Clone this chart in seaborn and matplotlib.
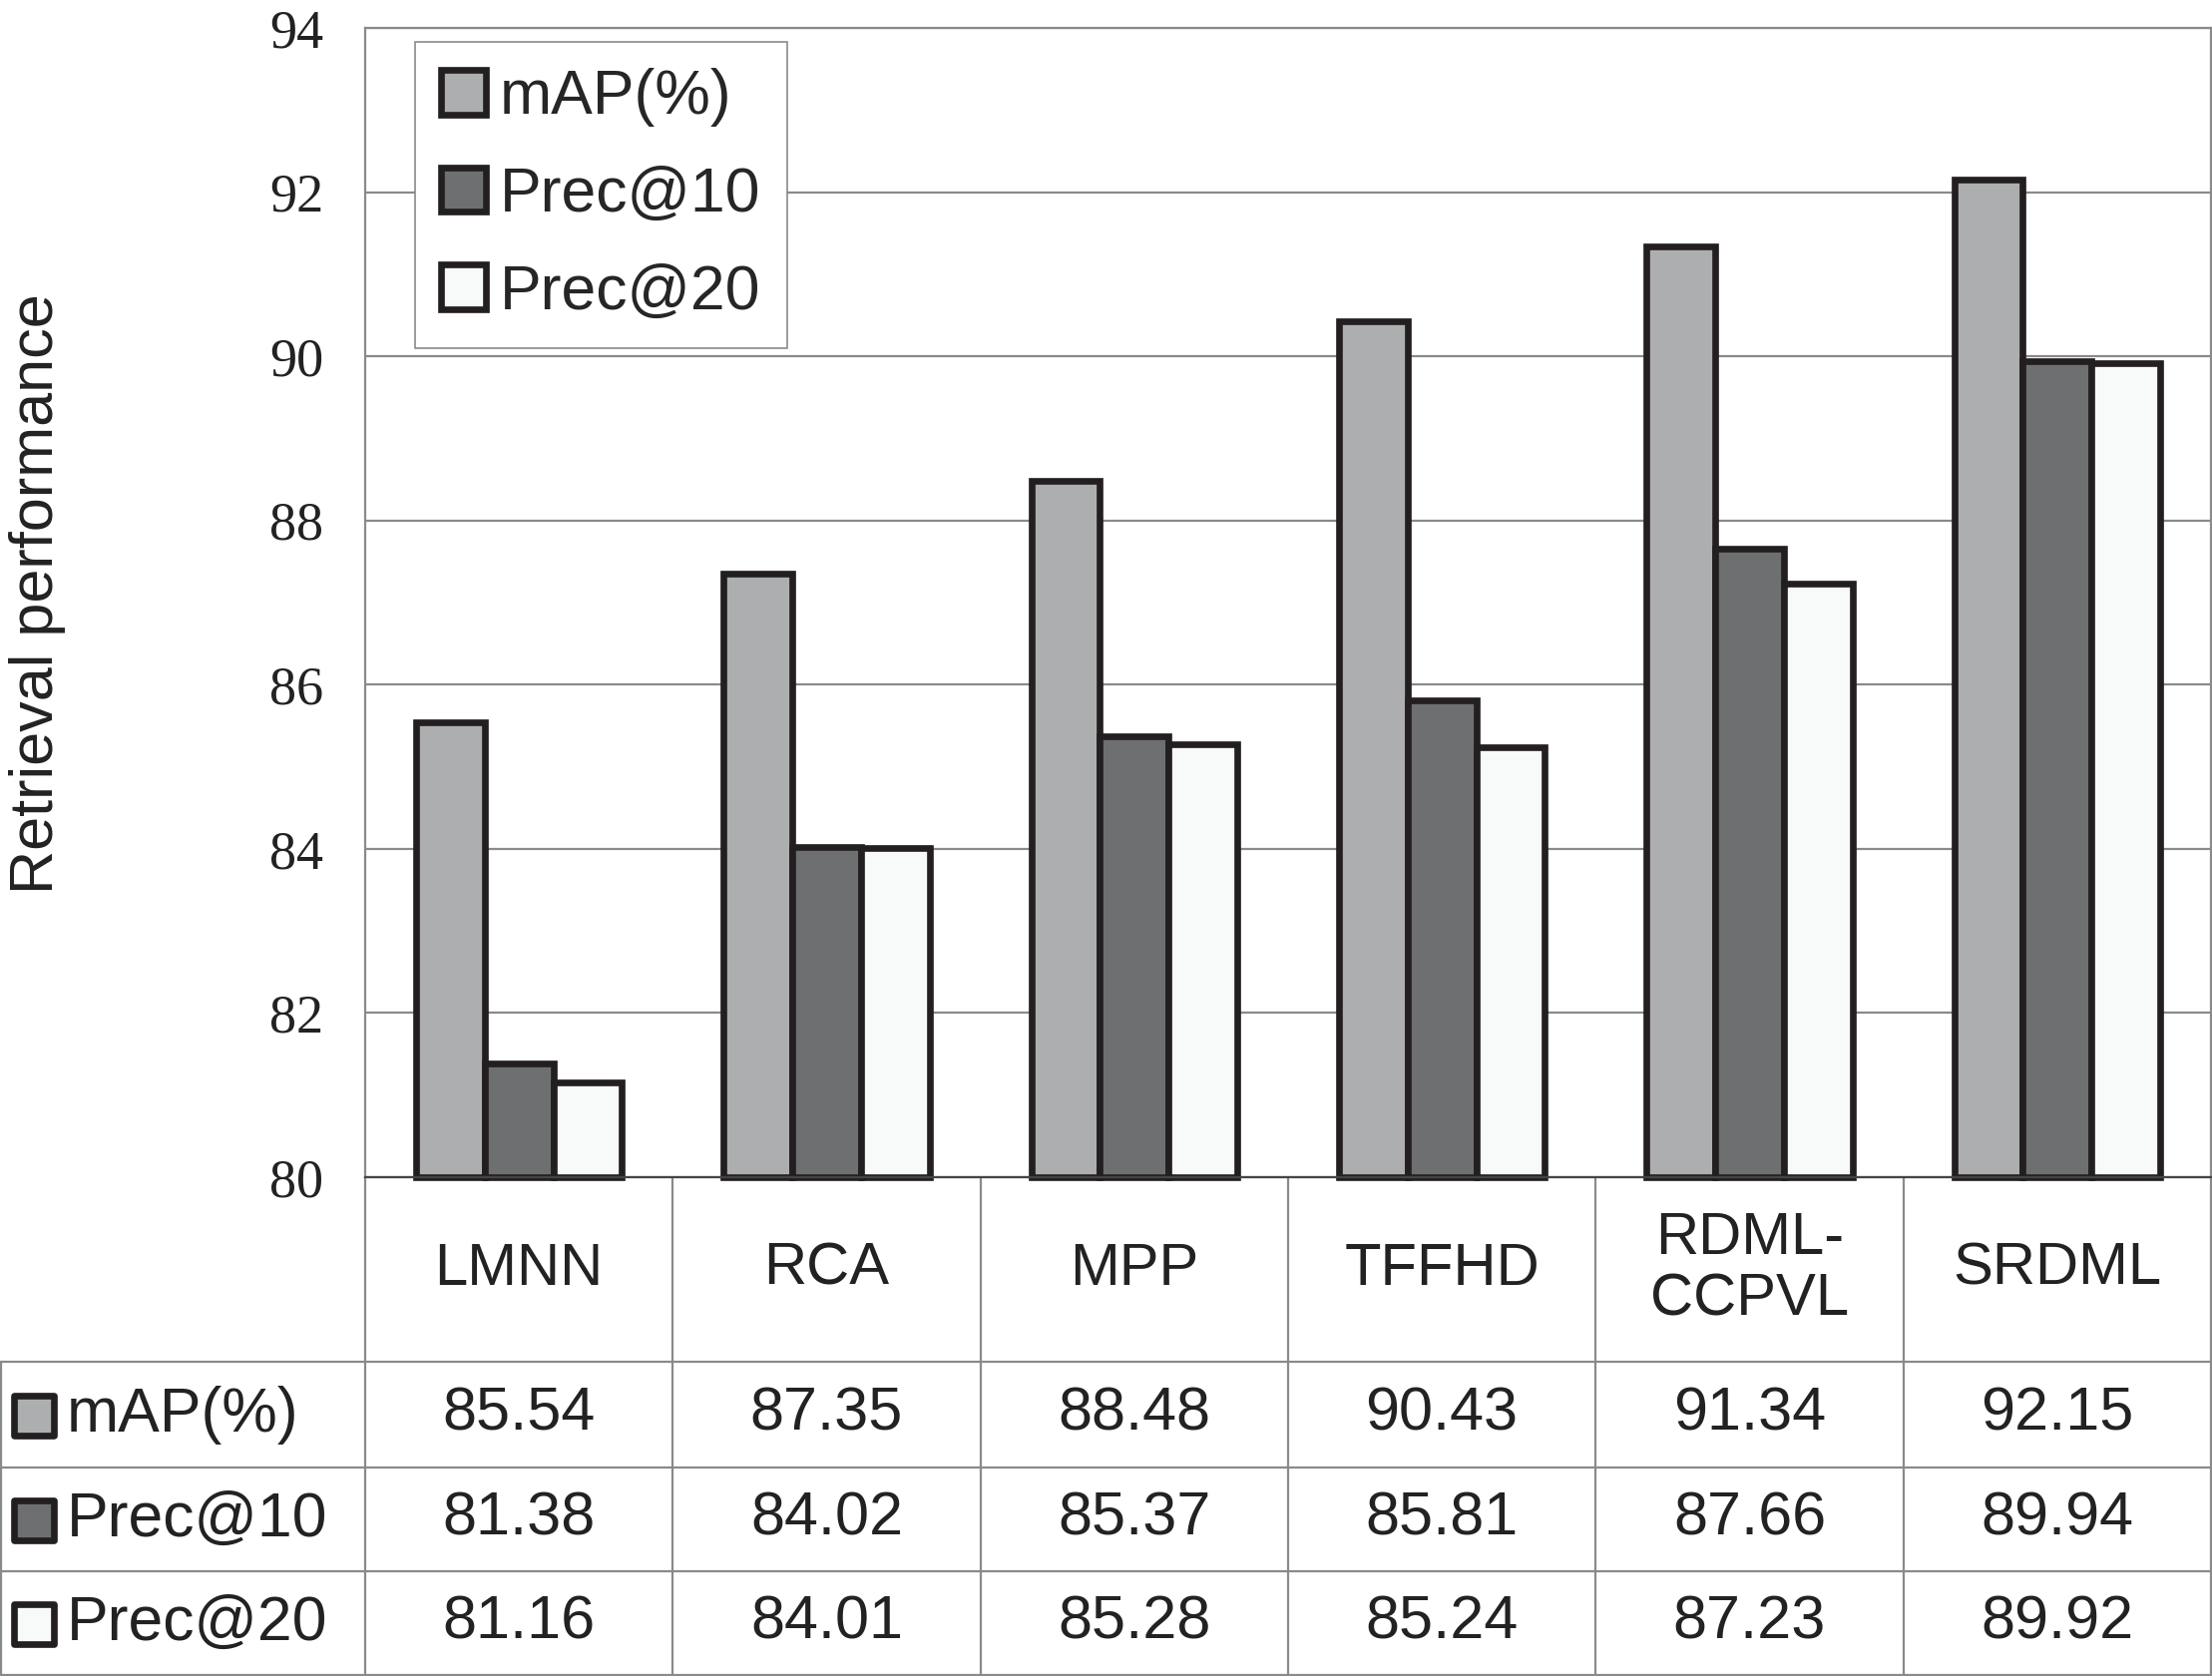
import pandas as pd
import matplotlib.pyplot as plt
import seaborn as sns
from matplotlib.patches import Rectangle
from matplotlib.transforms import blended_transform_factory

methods = ["LMNN", "RCA", "MPP", "TFFHD", "RDML-\nCCPVL", "SRDML"]
metrics = ["mAP(%)", "Prec@10", "Prec@20"]
map_vals = [85.54, 87.35, 88.48, 90.43, 91.34, 92.15]
prec10_vals = [81.38, 84.02, 85.37, 85.81, 87.66, 89.94]
prec20_vals = [81.16, 84.01, 85.28, 85.24, 87.23, 89.92]
yticks = [80, 82, 84, 86, 88, 90, 92, 94]

colors = ["#adaeb0", "#6e6f71", "#f8f9f9"]
edge = "#231f20"
line_c = "#8a8a8a"

df = pd.DataFrame({
    "method": methods * 3,
    "metric": [m for m in metrics for _ in methods],
    "value": map_vals + prec10_vals + prec20_vals,
})

sns.set_theme(style="white")
plt.rcParams["font.family"] = ["Liberation Sans", "DejaVu Sans"]

W, H = 2217, 1680
fig = plt.figure(figsize=(W / 100, H / 100), dpi=100)
ax = fig.add_axes([366 / W, 1 - 1180 / H, (W - 367) / W, (1180 - 28) / H])

sns.barplot(data=df, x="method", y="value", hue="metric", palette=colors,
            width=0.67, edgecolor=edge, linewidth=4.8, saturation=1, ax=ax)

# bars start at the axis floor so their bottom outline shows
base = yticks[0]
for cont in ax.containers:
    for p in cont:
        h = p.get_height()
        p.set_y(base)
        p.set_height(h - base)
        p.set_clip_on(False)

ax.set_ylim(yticks[0], yticks[-1])
ax.set_xlim(-0.5, len(methods) - 0.5)
ax.set_yticks(yticks)
ax.set_yticklabels([str(t) for t in yticks], fontfamily="Liberation Serif")
ax.tick_params(axis="y", length=0, pad=30, labelsize=39, labelcolor="#222222")
ax.set_xticks(range(len(methods)))
ax.set_xticklabels([])
ax.tick_params(axis="x", length=0)
ax.set_xlabel("")
ax.set_ylabel("")
ax.yaxis.grid(True, color=line_c, lw=1.6)
ax.set_axisbelow(True)
for s in ax.spines.values():
    s.set_color(line_c)
    s.set_linewidth(1.6)
ax.spines["bottom"].set_color("#444444")

handles, labels = ax.get_legend_handles_labels()
leg = ax.legend(handles, labels, loc="upper left", bbox_to_anchor=(0.027, 0.988),
                fontsize=45, frameon=True, fancybox=False, edgecolor=line_c,
                framealpha=1, handlelength=0.72, handleheight=0.72,
                handletextpad=0.22, labelspacing=0.62, borderpad=0.42,
                borderaxespad=0)
leg.get_frame().set_linewidth(1.2)

fig.text(38 / W, 1 - 595 / H, "Retrieval performance", rotation=90,
         ha="center", va="center", fontsize=44, color="#222222")

# table under the axes
trans = blended_transform_factory(ax.transData, ax.transAxes)
ypx = lambda py: (1180 - py) / 1152
row_edges = [1365, 1471, 1575, 1679]
left_x = -0.5 - 366 / 308.5 + 0.003
right_x = len(methods) - 0.5

for k in range(len(methods) + 1):
    ax.plot([k - 0.5, k - 0.5], [0, ypx(1679)], color=line_c, lw=1.6,
            transform=trans, clip_on=False)
ax.plot([left_x, left_x], [ypx(1365), ypx(1679)], color=line_c, lw=1.6,
        transform=trans, clip_on=False)
for py in row_edges:
    ax.plot([left_x, right_x], [ypx(py), ypx(py)], color=line_c, lw=1.6,
            transform=trans, clip_on=False)

for i, m in enumerate(methods):
    ax.text(i, ypx(1272), m, transform=trans, ha="center", va="center",
            fontsize=43, color="#222222", linespacing=1.15)

rows = [map_vals, prec10_vals, prec20_vals]
for r, vals in enumerate(rows):
    yc = (row_edges[r] + row_edges[r + 1]) / 2
    for i, v in enumerate(vals):
        ax.text(i, ypx(yc), f"{v:.2f}", transform=trans, ha="center",
                va="center", fontsize=44, color="#222222")
    fig.patches.append(Rectangle((14 / W, 1 - (yc + 21) / H), 40 / W, 40 / H,
                                 transform=fig.transFigure, facecolor=colors[r],
                                 edgecolor=edge, lw=4.8, joinstyle="round"))
    fig.text(67 / W, 1 - yc / H, metrics[r], ha="left", va="center",
             fontsize=45, color="#222222")

fig.savefig("out.png", dpi=100, facecolor="white")
